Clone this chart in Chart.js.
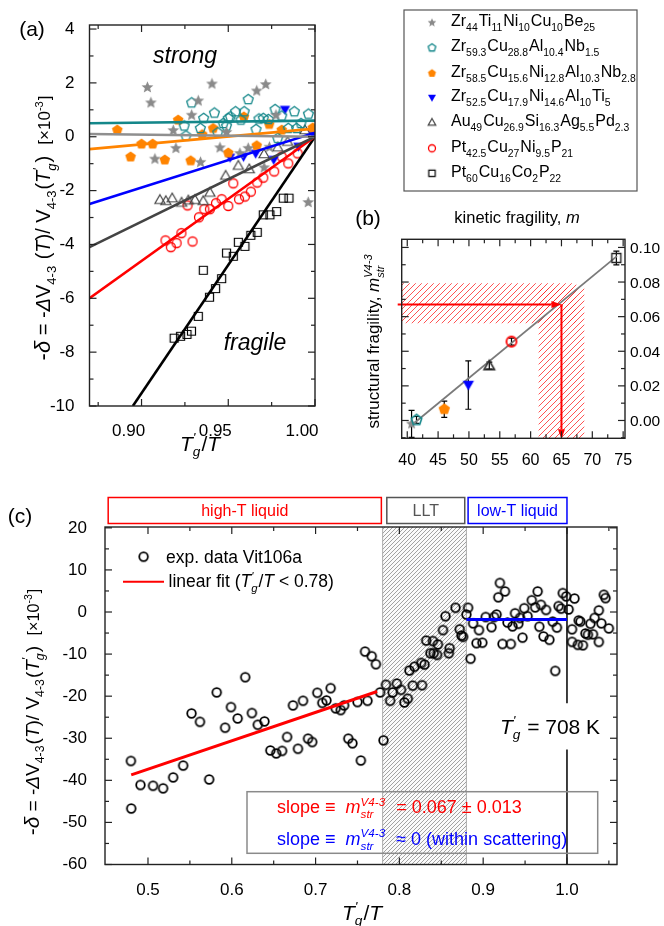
<!DOCTYPE html>
<html>
<head>
<meta charset="utf-8">
<script src="https://cdn.jsdelivr.net/npm/chart.js@4.4.0/dist/chart.umd.min.js"></script>
<style>
  body { margin: 0; background: #fff; }
  #wrap { position: relative; width: 664px; height: 926px; overflow: hidden; }
  canvas { position: absolute; }
</style>
</head>
<body>
<div id="wrap">
  <canvas id="ca" width="664" height="462" style="left:0;top:0"></canvas>
  <canvas id="cb" width="334" height="270" style="left:330px;top:195px"></canvas>
  <canvas id="cc" width="664" height="466" style="left:0;top:460px"></canvas>
</div>
<script>
// ---------- panel (a) data: T'g/T, -delta (x10^-3) ----------
const zr44Pts = [[0.9034,1.83],[0.9054,1.26],[0.9183,0.23],[0.9198,-0.43],[0.9077,-0.83],[0.9289,0.80],[0.9327,1.33],[0.934,-0.95],[0.9406,1.96],[0.9452,-0.41],[0.949,0.16],[0.9567,-0.62],[0.9615,-0.43],[0.9664,1.70],[0.9716,1.94],[0.9707,-1.15],[0.9775,0.8],[0.9737,-0.39],[0.9961,-2.44]];
const zr593Pts = [[0.9289,1.26],[0.9615,1.38],[0.942,0.88],[0.9358,0.68],[0.9246,0.40],[0.9339,0.31],[0.9256,0.03],[0.9439,0.15],[0.9471,0.49],[0.949,0.40],[0.95,0.68],[0.9512,0.74],[0.9542,0.93],[0.9592,0.93],[0.9573,0.62],[0.966,0.27],[0.9677,0.66],[0.9702,0.68],[0.9731,0.64],[0.977,1.01],[0.9808,0.77],[0.9881,0.93],[0.9785,-0.06],[0.9846,0.31],[0.9894,0.31],[0.9919,0.49],[0.9962,0.84]];
const zr585Pts = [[0.886,0.25],[0.8937,-0.75],[0.90,-0.27],[0.9064,-0.27],[0.9134,-0.86],[0.9211,0.62],[0.9283,-0.89],[0.935,0.08],[0.9413,0.31],[0.95,-0.6],[0.959,0.74],[0.9664,-0.33],[0.9736,0.46],[0.9808,0.25],[0.9987,0.33]];
const zr525Pts = [[0.951,-0.78],[0.9588,-0.75],[0.9658,-0.63],[0.9762,-0.86],[0.9827,1.0],[0.9904,-0.37],[0.999,0.06]];
const au49Pts = [[0.9106,-2.34],[0.914,-2.38],[0.9177,-2.28],[0.9231,-2.44],[0.927,-2.36],[0.9308,-2.34],[0.9356,-2.38],[0.9394,-2.07],[0.9485,-1.44],[0.9558,-1.07],[0.9621,-1.2],[0.9706,-0.64],[0.9785,-0.39],[0.9842,-0.18],[0.9942,0.25]];
const pt425Pts = [[0.9529,-1.73],[0.9808,-0.74],[0.9846,-0.99],[0.99,-0.62],[0.9765,-1.29],[0.9702,-1.52],[0.9667,-1.70],[0.963,-2.04],[0.9596,-2.22],[0.9562,-2.32],[0.95,-2.57],[0.9462,-2.32],[0.9429,-2.47],[0.9394,-2.69],[0.9362,-2.69],[0.9331,-2.99],[0.9265,-2.55],[0.923,-3.58],[0.9138,-3.85],[0.9169,-4.1],[0.9202,-3.95],[0.9294,-3.89]];
const pt60Pts = [[0.9188,-7.48],[0.9225,-7.41],[0.9262,-7.34],[0.9288,-7.22],[0.9327,-6.67],[0.9356,-4.96],[0.9392,-5.96],[0.9427,-5.64],[0.9462,-5.27],[0.949,-4.32],[0.9529,-4.44],[0.9558,-3.92],[0.9596,-4.07],[0.963,-3.66],[0.9667,-3.55],[0.9702,-2.9],[0.974,-2.9],[0.9779,-2.78],[0.9817,-2.28],[0.985,-2.28]];
// linear fits: start x, start y, end y at T'g/T = 1
const fitX0 = [0.87, 0.87, 0.87, 0.87, 0.87, 0.87, 0.895];
const fitY0 = [0.1, 0.5, -0.46, -2.5, -4.1, -6.0, -10];
const fitY1 = [0.0, 0.6, 0.3, 0.15, 0.0, 0.0, 0.0];
const aXTicks = [0.90, 0.95, 1.00];
const aXMinor = [0.875, 0.925, 0.975];
const aYTicks = [-10, -8, -6, -4, -2, 0, 2, 4];
const aYMinor = [-9, -7, -5, -3, -1, 1, 3];

// ---------- panel (b) data: kinetic m vs structural m ----------
const fragM = [40.7, 41.5, 46.0, 49.9, 53.3, 56.9, 73.9];
const fragStr = [-0.002, 0.0003, 0.0065, 0.0205, 0.0317, 0.0456, 0.0939];
const fragErr = [0.0078, 0.002, 0.0047, 0.014, 0.002, 0.002, 0.004];
const fitBX = [40.4, 74.0];
const fitBY = [-0.0036, 0.0950];
const bandM = [61.3, 68.7];
const bandStr = [0.0562, 0.0793];
const vit106M = 65;
const vit106Str = 0.067;
const bXTicks = [40, 45, 50, 55, 60, 65, 70, 75];
const bXMinor = [42.5, 47.5, 52.5, 57.5, 62.5, 67.5, 72.5];
const bYTicks = [0.00, 0.02, 0.04, 0.06, 0.08, 0.10];
const bYMinor = [-0.01, 0.01, 0.03, 0.05, 0.07, 0.09];

// ---------- panel (c) data: Vit106a ----------
const vitX = [0.4796,0.48,0.491,0.506,0.518,0.530,0.542,0.552,0.562,0.573,0.582,0.592,0.599,0.607,0.616,0.624,0.631,0.639,0.646,0.653,0.660,0.666,0.673,0.679,0.685,0.691,0.696,0.702,0.708,0.713,0.718,0.724,0.730,0.734,0.739,0.744,0.750,0.754,0.759,0.762,0.767,0.772,0.777,0.781,0.784,0.789,0.792,0.797,0.802,0.806,0.810,0.812,0.816,0.818,0.826,0.827,0.830,0.832,0.837,0.840,0.841,0.845,0.846,0.852,0.855,0.859,0.860,0.867,0.872,0.874,0.876,0.880,0.882,0.885,0.888,0.892,0.895,0.899,0.903,0.910,0.913,0.916,0.918,0.920,0.926,0.923,0.929,0.933,0.935,0.938,0.942,0.944,0.947,0.949,0.953,0.958,0.962,0.965,0.967,0.969,0.972,0.975,0.979,0.983,0.986,0.988,0.990,0.993,0.995,0.999,1.002,1.006,1.006,1.009,1.013,1.014,1.016,1.019,1.022,1.025,1.028,1.031,1.033,1.038,1.038,1.041,1.044,1.046,1.050];
const vitY = [-35.4,-46.7,-41.1,-41.3,-41.9,-39.3,-36.5,-24.1,-26.1,-39.8,-19.1,-27.5,-22.6,-25.3,-15.5,-24.0,-26.8,-26.0,-32.9,-33.6,-33.0,-29.7,-22.2,-32.5,-21.1,-30.1,-30.9,-19.2,-21.6,-21.0,-18.1,-22.9,-23.3,-22.2,-30.1,-31.2,-21.4,-35.3,-9.4,-21.1,-10.5,-12.4,-19.1,-30.5,-17.3,-21.1,-19.1,-17.0,-18.5,-21.5,-20.6,-13.9,-17.5,-13.0,-12.1,-17.4,-12.5,-6.8,-9.8,-6.9,-9.8,-10.2,-7.7,-4.3,-1.0,-9.8,-8.6,1.0,-4.1,-5.6,-5.9,-0.6,1.0,-11.1,-2.7,-7.4,-4.3,-7.3,-1.2,-3.6,-1.2,-0.6,3.5,6.9,4.9,-7.6,-2.5,-7.6,-3.4,-0.3,-2.8,-1.4,-6.1,0.9,-1.0,2.8,1.1,4.9,-3.5,1.7,-5.8,0.5,-6.6,-2.3,-14.0,-3.7,1.4,0.8,4.5,3.7,0.6,-4.1,-7.1,3.2,-7.8,-2.0,-2.3,-7.9,-5.1,-5.4,-2.8,-5.3,-1.4,0.4,-7.1,-2.7,4.1,3.3,-3.9];
const highFitX = [0.48, 0.7735];
const highFitY = [-38.7, -18.9];
const lowFitX = [0.88, 1.0];
const lowFitY = [-1.8, -1.8];
const lltRange = [0.78, 0.88];
const regionNames = ['high-T liquid', 'LLT', 'low-T liquid'];
const regionX = [[0.4525, 0.7785], [0.785, 0.878], [0.882, 1.0]];
const cXTicks = [0.5, 0.6, 0.7, 0.8, 0.9, 1.0];
const cXMinor = [0.55, 0.65, 0.75, 0.85, 0.95, 1.05];
const cYTicks = [-60, -50, -40, -30, -20, -10, 0, 10, 20];
const cYMinor = [-55, -45, -35, -25, -15, -5, 5, 15];

// ---------- helpers ----------
const FAM = 'Arial, "Liberation Sans", Helvetica, sans-serif';
Chart.defaults.font.family = FAM;
Chart.defaults.color = '#000';

function font(sz, it) { return (it ? 'italic ' : '') + sz + 'px ' + FAM; }

// rich text: strings, {t,it,s}, {sub}, {sup}, {sup,sub} stacked
function richRun(ctx, parts, size, x, y, draw) {
  let cx = x;
  for (const p of parts) {
    const o = typeof p === 'string' ? { t: p } : p;
    const sz = size * (o.s || 1);
    if (o.t !== undefined) {
      ctx.font = font(sz, o.it);
      if (draw) ctx.fillText(o.t, cx, y);
      cx += ctx.measureText(o.t).width;
    } else {
      const ss = sz * 0.65;
      ctx.font = font(ss, o.it);
      let w = 0;
      if (o.sup !== undefined) {
        if (draw) ctx.fillText(o.sup, cx, y - sz * 0.42);
        w = Math.max(w, ctx.measureText(o.sup).width);
      }
      if (o.sub !== undefined) {
        if (draw) ctx.fillText(o.sub, cx, y + sz * 0.28);
        w = Math.max(w, ctx.measureText(o.sub).width);
      }
      cx += w + 1;
    }
  }
  return cx - x;
}

function drawRich(ctx, parts, size, x, cy, align, color) {
  ctx.save();
  ctx.fillStyle = color || '#000';
  ctx.textBaseline = 'alphabetic';
  ctx.textAlign = 'left';
  const w = richRun(ctx, parts, size, 0, 0, false);
  const sx = align === 'center' ? x - w / 2 : align === 'right' ? x - w : x;
  richRun(ctx, parts, size, sx, cy + size * 0.36, true);
  ctx.restore();
}

function drawRichRot(ctx, parts, size, cx, cy, color) {
  ctx.save();
  ctx.translate(cx, cy);
  ctx.rotate(-Math.PI / 2);
  drawRich(ctx, parts, size, 0, 0, 'center', color);
  ctx.restore();
}

function marker(shape, r, stroke, fill, lw) {
  lw = lw || 1.3;
  const s = Math.ceil(r * 2 + lw * 2 + 2);
  const c = document.createElement('canvas');
  c.width = c.height = s;
  const g = c.getContext('2d');
  g.translate(s / 2, s / 2);
  g.beginPath();
  if (shape === 'star') {
    for (let i = 0; i < 10; i++) {
      const rr = i % 2 ? r * 0.45 : r;
      const a = -Math.PI / 2 + i * Math.PI / 5;
      g.lineTo(rr * Math.cos(a), rr * Math.sin(a));
    }
  } else if (shape === 'pent') {
    for (let i = 0; i < 5; i++) {
      const a = -Math.PI / 2 + i * 2 * Math.PI / 5;
      g.lineTo(r * Math.cos(a), r * Math.sin(a));
    }
  } else if (shape === 'tri' || shape === 'tridown') {
    const off = shape === 'tri' ? -Math.PI / 2 : Math.PI / 2;
    for (let i = 0; i < 3; i++) {
      const a = off + i * 2 * Math.PI / 3;
      g.lineTo(r * Math.cos(a), r * Math.sin(a) + (shape === 'tri' ? r * 0.15 : -r * 0.15));
    }
  } else if (shape === 'circle') {
    g.arc(0, 0, r, 0, Math.PI * 2);
  } else if (shape === 'square') {
    g.rect(-r, -r, 2 * r, 2 * r);
  }
  g.closePath();
  if (fill) { g.fillStyle = fill; g.fill(); }
  if (stroke) { g.strokeStyle = stroke; g.lineWidth = lw; g.stroke(); }
  return c;
}

function hatchCanvas(color, gap, lw, bg) {
  const c = document.createElement('canvas');
  c.width = c.height = gap;
  const g = c.getContext('2d');
  if (bg) { g.fillStyle = bg; g.fillRect(0, 0, gap, gap); }
  g.strokeStyle = color;
  g.lineWidth = lw;
  g.beginPath();
  g.moveTo(-1, gap + 1); g.lineTo(gap + 1, -1);
  g.moveTo(-1, 1); g.lineTo(1, -1);
  g.moveTo(gap - 1, gap + 1); g.lineTo(gap + 1, gap - 1);
  g.stroke();
  return c;
}

function frameTicks(chart, xMaj, xMin, yMaj, yMin, yScaleId) {
  const { ctx, chartArea: a } = chart;
  const xs = chart.scales.x, ys = chart.scales[yScaleId || 'y'];
  ctx.save();
  ctx.strokeStyle = '#222';
  ctx.lineWidth = 1.4;
  ctx.strokeRect(a.left, a.top, a.right - a.left, a.bottom - a.top);
  ctx.lineWidth = 1.2;
  const seg = (x1, y1, x2, y2) => { ctx.beginPath(); ctx.moveTo(x1, y1); ctx.lineTo(x2, y2); ctx.stroke(); };
  const doX = (vals, len) => vals.forEach(v => {
    const p = xs.getPixelForValue(v);
    if (p < a.left - 0.5 || p > a.right + 0.5) return;
    seg(p, a.bottom, p, a.bottom - len); seg(p, a.top, p, a.top + len);
  });
  const doY = (vals, len) => vals.forEach(v => {
    const p = ys.getPixelForValue(v);
    if (p < a.top - 0.5 || p > a.bottom + 0.5) return;
    seg(a.left, p, a.left + len, p); seg(a.right, p, a.right - len, p);
  });
  doX(xMaj, 7); doX(xMin, 4); doY(yMaj, 7); doY(yMin, 4);
  ctx.restore();
}

function arrow(ctx, x1, y1, x2, y2, color) {
  const ang = Math.atan2(y2 - y1, x2 - x1);
  const L = 10, W = 3.5;
  ctx.save();
  ctx.strokeStyle = color; ctx.fillStyle = color; ctx.lineWidth = 2;
  ctx.beginPath(); ctx.moveTo(x1, y1);
  ctx.lineTo(x2 - L * Math.cos(ang), y2 - L * Math.sin(ang)); ctx.stroke();
  ctx.beginPath(); ctx.moveTo(x2, y2);
  ctx.lineTo(x2 - L * Math.cos(ang) + W * Math.sin(ang), y2 - L * Math.sin(ang) - W * Math.cos(ang));
  ctx.lineTo(x2 - L * Math.cos(ang) - W * Math.sin(ang), y2 - L * Math.sin(ang) + W * Math.cos(ang));
  ctx.closePath(); ctx.fill();
  ctx.restore();
}

const toXY = pts => pts.map(p => ({ x: p[0], y: p[1] }));
const tickList = vals => s => { s.ticks = vals.map(v => ({ value: v })); };

// ---------- series styles ----------
const TEAL = '#14878a', ORANGE = '#ff8400', BLUE = '#0000ff', DGRAY = '#444444', GRAY = '#8a8a8a', RED = '#ff0000';
const seriesA = [
  { pts: zr44Pts, mk: marker('star', 6.2, null, GRAY), lg: marker('star', 4.5, null, GRAY), line: '#8f8f8f',
    label: ['Zr', { sub: '44' }, 'Ti', { sub: '11' }, 'Ni', { sub: '10' }, 'Cu', { sub: '10' }, 'Be', { sub: '25' }] },
  { pts: zr593Pts, mk: marker('pent', 5.2, TEAL, null, 1.3), lg: marker('pent', 4, TEAL, null, 1.3), line: TEAL,
    label: ['Zr', { sub: '59.3' }, 'Cu', { sub: '28.8' }, 'Al', { sub: '10.4' }, 'Nb', { sub: '1.5' }] },
  { pts: zr585Pts, mk: marker('pent', 5.6, null, ORANGE), lg: marker('pent', 4.2, null, ORANGE), line: ORANGE,
    label: ['Zr', { sub: '58.5' }, 'Cu', { sub: '15.6' }, 'Ni', { sub: '12.8' }, 'Al', { sub: '10.3' }, 'Nb', { sub: '2.8' }] },
  { pts: zr525Pts, mk: marker('tridown', 6, null, BLUE), lg: marker('tridown', 4.6, null, BLUE), line: BLUE,
    label: ['Zr', { sub: '52.5' }, 'Cu', { sub: '17.9' }, 'Ni', { sub: '14.6' }, 'Al', { sub: '10' }, 'Ti', { sub: '5' }] },
  { pts: au49Pts, mk: marker('tri', 5.8, DGRAY, null, 1.2), lg: marker('tri', 4.4, DGRAY, null, 1.2), line: DGRAY,
    label: ['Au', { sub: '49' }, 'Cu', { sub: '26.9' }, 'Si', { sub: '16.3' }, 'Ag', { sub: '5.5' }, 'Pd', { sub: '2.3' }] },
  { pts: pt425Pts, mk: marker('circle', 4.5, RED, null, 1.3), lg: marker('circle', 3.5, RED, null, 1.3), line: RED,
    label: ['Pt', { sub: '42.5' }, 'Cu', { sub: '27' }, 'Ni', { sub: '9.5' }, 'P', { sub: '21' }] },
  { pts: pt60Pts, mk: marker('square', 4, '#000', null, 1.2), lg: marker('square', 3.2, '#000', null, 1.2), line: '#000',
    label: ['Pt', { sub: '60' }, 'Cu', { sub: '16' }, 'Co', { sub: '2' }, 'P', { sub: '22' }] }
];

const TGT = [{ t: 'T', it: 1 }, { sup: "'", sub: 'g', it: 1 }, '/', { t: 'T', it: 1 }];

// ---------- chart (a) ----------
const aPlugin = {
  id: 'pa',
  afterDraw(chart) {
    const { ctx } = chart;
    frameTicks(chart, aXTicks, aXMinor, aYTicks, aYMinor);
    drawRich(ctx, ['(a)'], 21, 32, 28, 'center');
    drawRich(ctx, [{ t: 'strong', it: 1 }], 23, 185, 55, 'center');
    drawRich(ctx, [{ t: 'fragile', it: 1 }], 23, 255, 342, 'center');
    drawRich(ctx, TGT, 21, 200, 443, 'center');
    drawRichRot(ctx, [{ t: '-', s: 1.1 }, { t: 'δ', it: 1, s: 1.1 }, ' = -', { t: 'Δ', it: 1 }, 'V', { sub: '4-3' }, ' (', { t: 'T', it: 1 }, ')/ V', { sub: '4-3' }, '(', { t: 'T', it: 1 }, { sup: "'", sub: 'g', it: 1 }, ')  ', { t: '[×10', s: 0.85 }, { sup: '-3', s: 0.85 }, { t: ']', s: 0.85 }], 20, 43, 228);
    // legend box
    ctx.save();
    ctx.fillStyle = '#fff';
    ctx.fillRect(404, 10, 233, 181);
    ctx.strokeStyle = '#555'; ctx.lineWidth = 1.2;
    ctx.strokeRect(404, 10, 233, 181);
    ctx.restore();
    const rows = [22.7, 47.7, 73.3, 97.7, 122.3, 148.3, 173.3];
    seriesA.forEach((s, i) => {
      ctx.drawImage(s.lg, 432 - s.lg.width / 2, rows[i] - s.lg.height / 2);
      drawRich(ctx, s.label, 16, 451, rows[i] - 2, 'left');
    });
  }
};

const dsA = [];
seriesA.forEach((s, i) => {
  dsA.push({ data: [{ x: fitX0[i], y: fitY0[i] }, { x: 1.0, y: fitY1[i] }],
    showLine: true, borderColor: s.line, borderWidth: 2.6, pointRadius: 0, order: 1 });
});
seriesA.forEach((s, i) => {
  dsA.push({ data: toXY(s.pts), pointStyle: s.mk, pointRadius: 5, order: 2 });
});

new Chart(document.getElementById('ca'), {
  type: 'scatter',
  data: { datasets: dsA },
  options: {
    responsive: false, animation: false, events: [],
    layout: { padding: { left: 0, right: 349, top: 25, bottom: 0 } },
    plugins: { legend: { display: false }, tooltip: { enabled: false } },
    scales: {
      x: {
        type: 'linear', min: 0.87, max: 1.0,
        grid: { display: false }, border: { display: false },
        afterFit: s => { s.height = 56; },
        afterBuildTicks: tickList(aXTicks),
        ticks: { font: { size: 17 }, color: '#000', padding: 7, labelOffset: -13, maxRotation: 0, callback: v => v.toFixed(2) }
      },
      y: {
        type: 'linear', min: -10, max: 4.15,
        grid: { display: false }, border: { display: false },
        afterFit: s => { s.width = 89.5; },
        afterBuildTicks: tickList(aYTicks),
        ticks: { font: { size: 17 }, color: '#000', padding: 7, callback: v => String(v) }
      }
    }
  },
  plugins: [aPlugin]
});

// ---------- chart (b) ----------
const bMarkers = [
  marker('star', 6, null, GRAY), marker('pent', 5.5, TEAL, null, 1.6), marker('pent', 6, null, ORANGE),
  marker('tridown', 6.5, null, BLUE), marker('tri', 6, '#222', null, 1.6), marker('circle', 5, RED, null, 1.8),
  marker('square', 4.5, '#222', null, 1.4)
];
const redHatch = hatchCanvas('rgba(255,40,40,0.8)', 6, 1);

const bPlugin = {
  id: 'pb',
  beforeDatasetsDraw(chart) {
    const { ctx, chartArea: a, scales: { x, y } } = chart;
    ctx.save();
    ctx.beginPath(); ctx.rect(a.left, a.top, a.right - a.left, a.bottom - a.top); ctx.clip();
    ctx.fillStyle = ctx.createPattern(redHatch, 'repeat');
    const hx2 = x.getPixelForValue(67.4);
    ctx.fillRect(a.left, y.getPixelForValue(bandStr[1]), hx2 - a.left, y.getPixelForValue(bandStr[0]) - y.getPixelForValue(bandStr[1]));
    const vx1 = x.getPixelForValue(bandM[0]), vx2 = x.getPixelForValue(bandM[1]);
    const vy = y.getPixelForValue(0.0764);
    ctx.fillRect(vx1, vy, vx2 - vx1, a.bottom - vy);
    ctx.restore();
    // error bars
    ctx.save();
    ctx.strokeStyle = '#000'; ctx.lineWidth = 1.2;
    fragM.forEach((m, i) => {
      const px = x.getPixelForValue(m);
      const y1 = y.getPixelForValue(fragStr[i] - fragErr[i]), y2 = y.getPixelForValue(fragStr[i] + fragErr[i]);
      ctx.beginPath();
      ctx.moveTo(px, y1); ctx.lineTo(px, y2);
      ctx.moveTo(px - 3, y1); ctx.lineTo(px + 3, y1);
      ctx.moveTo(px - 3, y2); ctx.lineTo(px + 3, y2);
      ctx.stroke();
    });
    ctx.restore();
  },
  afterDraw(chart) {
    const { ctx, chartArea: a, scales: { x, y } } = chart;
    const px = x.getPixelForValue(vit106M), py = y.getPixelForValue(vit106Str);
    arrow(ctx, a.left - 4, py, px, py, RED);
    ctx.save(); ctx.strokeStyle = RED; ctx.lineWidth = 2;
    ctx.beginPath(); ctx.moveTo(px, py); ctx.lineTo(px, py + 2); ctx.stroke(); ctx.restore();
    arrow(ctx, px, py, px, a.bottom + 1, RED);
    frameTicks(chart, bXTicks, bXMinor, bYTicks, bYMinor);
    drawRich(ctx, ['(b)'], 21, 38, 22, 'center');
    drawRich(ctx, ['kinetic fragility, ', { t: 'm', it: 1 }], 16.5, 187, 22, 'center');
    drawRichRot(ctx, ['structural fragility, ', { t: 'm', it: 1 }, { sup: 'V4-3', sub: 'str', it: 1 }], 17, 43, 146);
    // right-hand tick labels
    bYTicks.forEach(v => drawRich(ctx, [v.toFixed(2)], 15.5, a.right + 5, y.getPixelForValue(v), 'left'));
  }
};

new Chart(document.getElementById('cb'), {
  type: 'scatter',
  data: {
    datasets: [
      { data: fragM.map((m, i) => ({ x: m, y: fragStr[i] })), pointStyle: bMarkers, pointRadius: 6, order: 1 },
      { data: fitBX.map((m, i) => ({ x: m, y: fitBY[i] })), showLine: true, borderColor: '#7a7a7a', borderWidth: 1.8, pointRadius: 0, order: 2 }
    ]
  },
  options: {
    responsive: false, animation: false, events: [],
    layout: { padding: { left: 0, right: 39, top: 44.3, bottom: 0 } },
    plugins: { legend: { display: false }, tooltip: { enabled: false } },
    scales: {
      x: {
        type: 'linear', min: 39.1, max: 75.3,
        grid: { display: false }, border: { display: false },
        afterFit: s => { s.height = 26.7; },
        afterBuildTicks: tickList(bXTicks),
        ticks: { font: { size: 16 }, color: '#000', padding: 5, maxRotation: 0 }
      },
      y: {
        type: 'linear', position: 'left', min: -0.0103, max: 0.1047,
        grid: { display: false }, border: { display: false },
        afterFit: s => { s.width = 71.7; },
        ticks: { display: false }
      }
    }
  },
  plugins: [bPlugin]
});

// ---------- chart (c) ----------
const cMarker = marker('circle', 4.3, '#000', null, 1.8);
const grayHatch = hatchCanvas('#8c8c8c', 4, 0.8, '#fafafa');
const regionColors = [RED, '#555', BLUE];

const cPlugin = {
  id: 'pc',
  beforeDatasetsDraw(chart) {
    const { ctx, chartArea: a, scales: { x } } = chart;
    const x1 = x.getPixelForValue(lltRange[0]), x2 = x.getPixelForValue(lltRange[1]);
    ctx.save();
    ctx.fillStyle = ctx.createPattern(grayHatch, 'repeat');
    ctx.fillRect(x1, a.top, x2 - x1, a.bottom - a.top);
    ctx.strokeStyle = '#999'; ctx.lineWidth = 0.8;
    ctx.beginPath(); ctx.moveTo(x1, a.top); ctx.lineTo(x1, a.bottom); ctx.moveTo(x2, a.top); ctx.lineTo(x2, a.bottom); ctx.stroke();
    // Tg' line
    const xg = x.getPixelForValue(1.0), y = chart.scales.y;
    ctx.strokeStyle = '#000'; ctx.lineWidth = 1.5;
    ctx.beginPath();
    ctx.moveTo(xg, a.top); ctx.lineTo(xg, y.getPixelForValue(-21.7));
    ctx.moveTo(xg, y.getPixelForValue(-32.7)); ctx.lineTo(xg, a.bottom);
    ctx.stroke();
    ctx.restore();
  },
  afterDraw(chart) {
    const { ctx, chartArea: a, scales: { x, y } } = chart;
    frameTicks(chart, cXTicks, cXMinor, cYTicks, cYMinor);
    // region boxes
    regionX.forEach((r, i) => {
      const x1 = x.getPixelForValue(r[0]), x2 = x.getPixelForValue(r[1]);
      ctx.save();
      ctx.strokeStyle = regionColors[i]; ctx.lineWidth = 1.5;
      ctx.strokeRect(x1, 37.5, x2 - x1, 26);
      ctx.restore();
      drawRich(ctx, [regionNames[i]], 16, (x1 + x2) / 2, 50, 'center', regionColors[i]);
    });
    drawRich(ctx, ['(c)'], 21, 20, 55, 'center');
    // legend
    ctx.drawImage(cMarker, 143.6 - cMarker.width / 2, 96.7 - cMarker.height / 2);
    drawRich(ctx, ['exp. data Vit106a'], 17.5, 166, 96.7, 'left');
    ctx.save(); ctx.strokeStyle = RED; ctx.lineWidth = 2;
    ctx.beginPath(); ctx.moveTo(123, 121.7); ctx.lineTo(164, 121.7); ctx.stroke(); ctx.restore();
    drawRich(ctx, ['linear fit (', ...TGT, ' < 0.78)'], 17.5, 168.5, 120.7, 'left');
    // slope box
    ctx.save(); ctx.strokeStyle = '#8a8a8a'; ctx.lineWidth = 1.5;
    ctx.strokeRect(247, 331.7, 350.7, 61.6); ctx.restore();
    const mstr = [{ t: 'm', it: 1 }, { sup: 'V4-3', sub: 'str', it: 1 }];
    drawRich(ctx, ['slope ≡  ', ...mstr, '  = 0.067 ± 0.013'], 18, 277, 346.7, 'left', RED);
    drawRich(ctx, ['slope ≡  ', ...mstr, '  ≈ 0 (within scattering)'], 18, 277, 378.3, 'left', BLUE);
    drawRich(ctx, [{ t: 'T', it: 1 }, { sup: "'", sub: 'g', it: 1 }, ' = 708 K'], 21, 550, 266, 'center');
    drawRich(ctx, TGT, 21, 362, 452, 'center');
    drawRichRot(ctx, [{ t: '-', s: 1.1 }, { t: 'δ', it: 1, s: 1.1 }, ' = -', { t: 'Δ', it: 1 }, 'V', { sub: '4-3' }, '(', { t: 'T', it: 1 }, ')/ V', { sub: '4-3' }, '(', { t: 'T', it: 1 }, { sup: "'", sub: 'g', it: 1 }, ')  ', { t: '[×10', s: 0.85 }, { sup: '-3', s: 0.85 }, { t: ']', s: 0.85 }], 19, 32, 252);
  }
};

new Chart(document.getElementById('cc'), {
  type: 'scatter',
  data: {
    datasets: [
      { data: highFitX.map((v, i) => ({ x: v, y: highFitY[i] })), showLine: true, borderColor: RED, borderWidth: 3, pointRadius: 0, order: 1 },
      { data: lowFitX.map((v, i) => ({ x: v, y: lowFitY[i] })), showLine: true, borderColor: BLUE, borderWidth: 3, pointRadius: 0, order: 1 },
      { data: vitX.map((v, i) => ({ x: v, y: vitY[i] })), pointStyle: cMarker, pointRadius: 4.3, order: 2 }
    ]
  },
  options: {
    responsive: false, animation: false, events: [],
    layout: { padding: { left: 0, right: 47, top: 67, bottom: 0 } },
    plugins: { legend: { display: false }, tooltip: { enabled: false } },
    scales: {
      x: {
        type: 'linear', min: 0.4487, max: 1.0597,
        grid: { display: false }, border: { display: false },
        afterFit: s => { s.height = 61.5; },
        afterBuildTicks: tickList(cXTicks),
        ticks: { font: { size: 17 }, color: '#000', padding: 8, maxRotation: 0, callback: v => v.toFixed(1) }
      },
      y: {
        type: 'linear', min: -60, max: 20.2,
        grid: { display: false }, border: { display: false },
        afterFit: s => { s.width = 105; },
        afterBuildTicks: tickList(cYTicks),
        ticks: { font: { size: 17 }, color: '#000', padding: 10, callback: v => String(v) }
      }
    }
  },
  plugins: [cPlugin]
});
</script>
</body>
</html>
